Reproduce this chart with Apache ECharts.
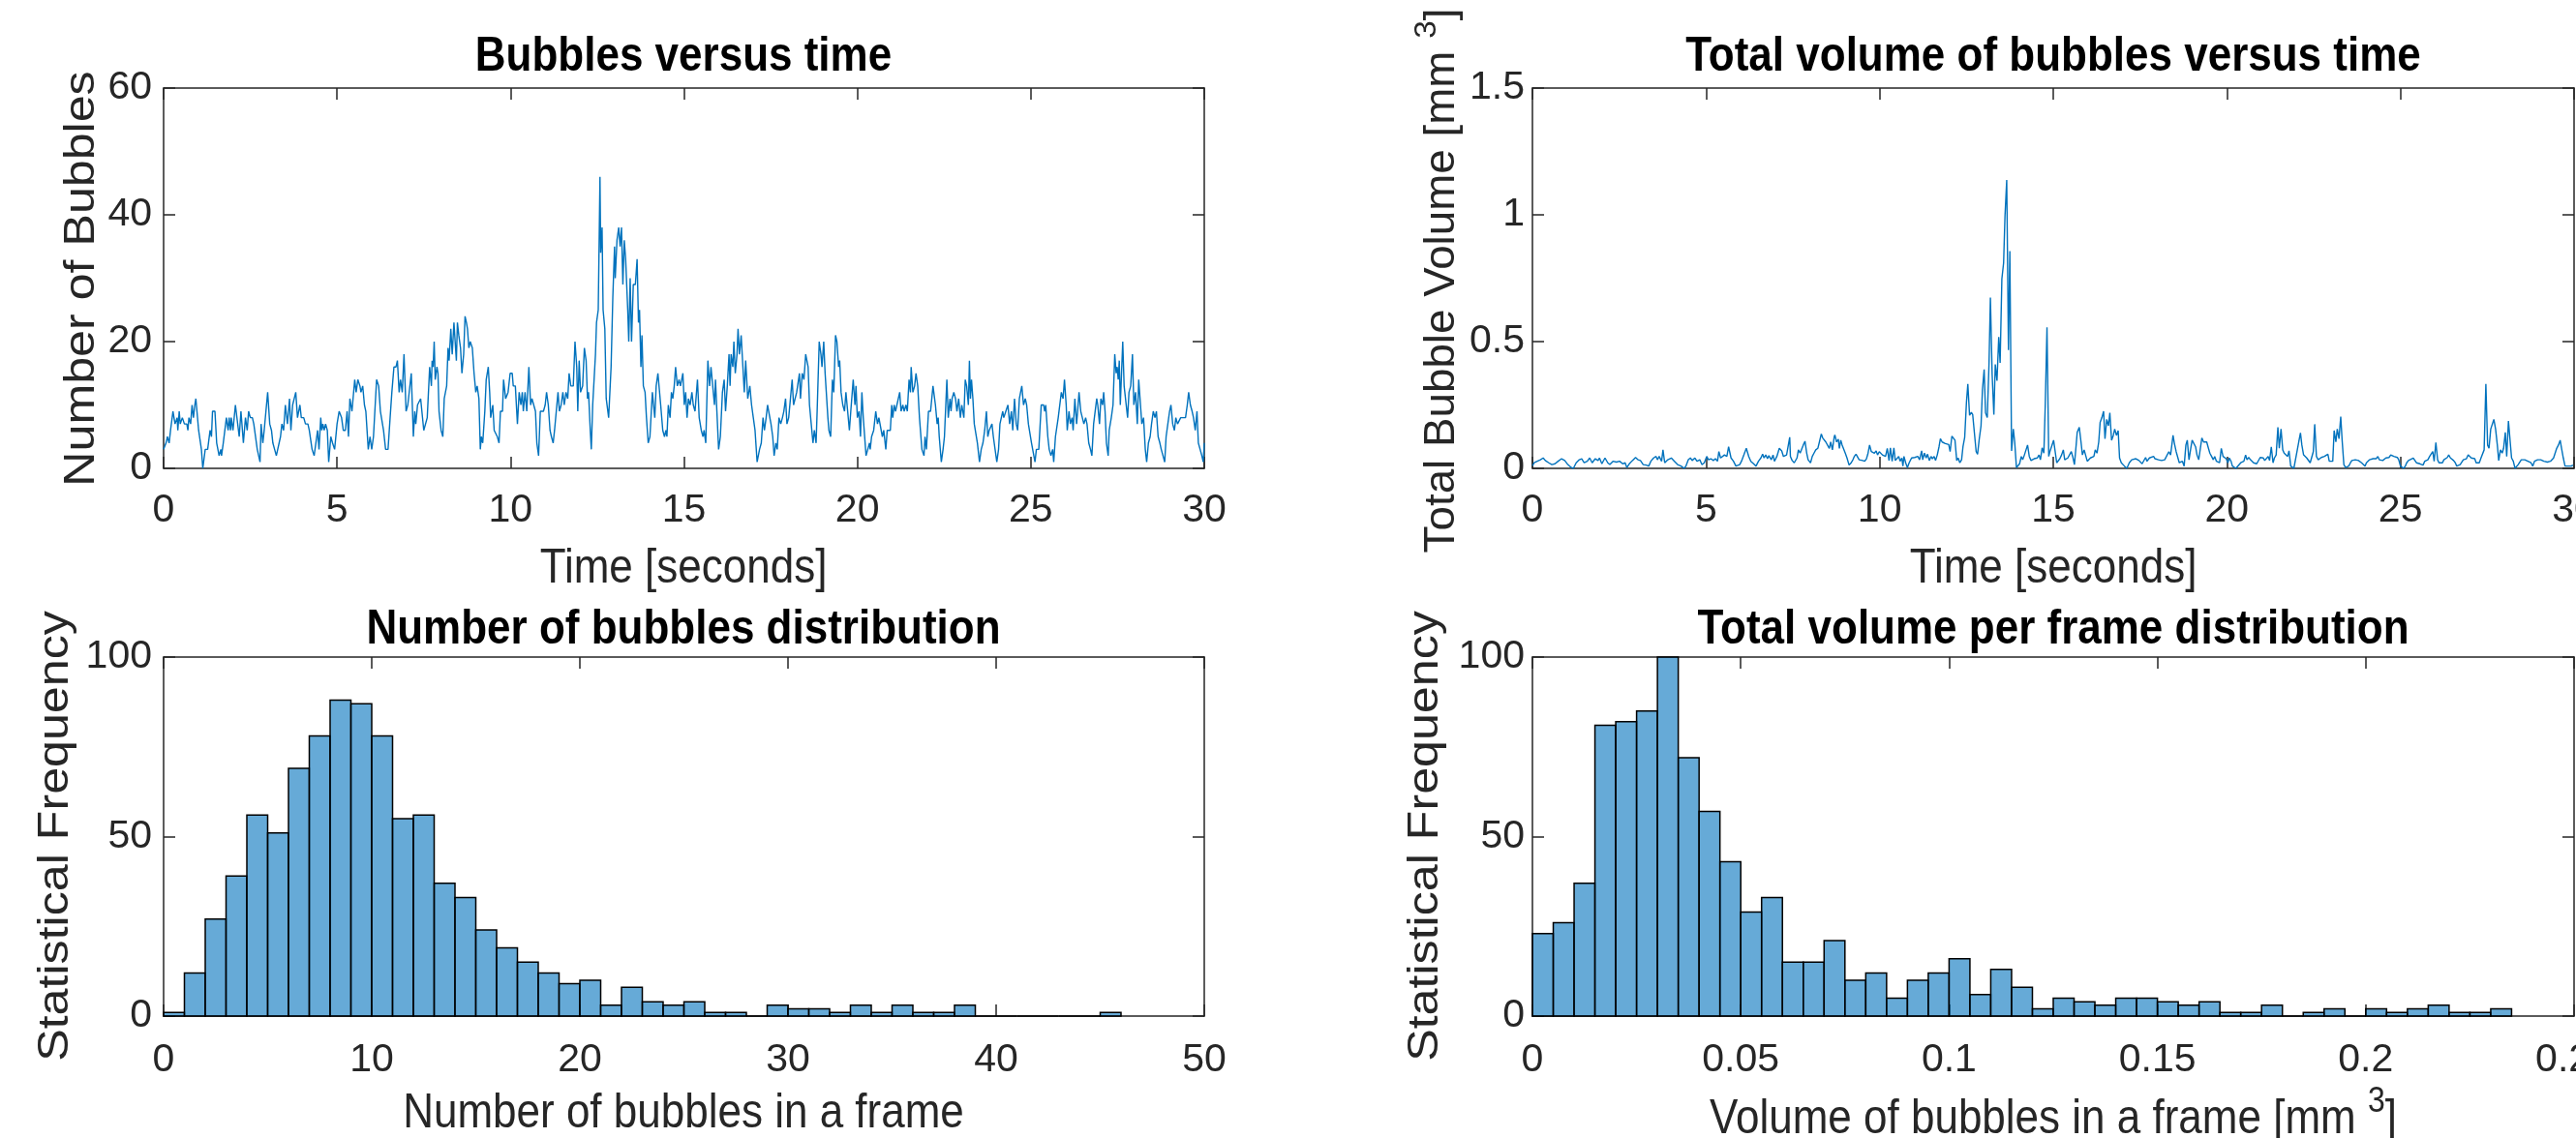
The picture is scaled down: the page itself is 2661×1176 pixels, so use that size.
<!DOCTYPE html>
<html lang="en">
<head>
<meta charset="UTF-8">
<title>Bubbles</title>
<style>
  html, body { margin: 0; padding: 0; background: #fff; overflow: hidden; }
  #main { width: 2661px; height: 1176px; }
</style>
</head>
<body>
<div id="main"></div>
<script src="https://cdn.jsdelivr.net/npm/echarts@6/dist/echarts.min.js"></script>
<script>
// number of bubbles per frame, [time s, count]
var bubblesOverTime = [
[0,3],[0.07,4],[0.11,5],[0.16,4],[0.2,6],[0.27,9],[0.33,7],[0.39,8],[0.41,6],[0.45,9],[0.48,7],[0.54,8],[0.6,7],[0.67,7],[0.7,6],[0.73,8],[0.78,7],[0.82,10],[0.86,8],[0.9,10],[0.93,11],[1.01,6],[1.09,3],[1.13,0],[1.2,3],[1.27,3],[1.34,6],[1.38,5],[1.41,9],[1.48,9],[1.53,4],[1.6,2],[1.65,3],[1.67,2],[1.72,4],[1.77,4],[1.81,8],[1.86,6],[1.89,8],[1.93,6],[1.95,8],[2,6],[2.07,10],[2.11,10],[2.18,5],[2.23,9],[2.3,4],[2.36,8],[2.41,6],[2.45,9],[2.5,8],[2.56,8],[2.6,7],[2.7,3],[2.78,1],[2.81,7],[2.86,4],[2.9,6],[3,12],[3.06,7],[3.11,6],[3.15,4],[3.2,3],[3.25,2],[3.3,2],[3.37,5],[3.41,7],[3.46,6],[3.51,10],[3.55,10],[3.57,7],[3.63,11],[3.67,6],[3.72,10],[3.77,10],[3.81,12],[3.86,8],[3.93,10],[3.97,8],[4.04,8],[4.09,7],[4.16,7],[4.2,6],[4.28,3],[4.34,2],[4.39,2],[4.44,6],[4.48,3],[4.53,8],[4.56,6],[4.59,7],[4.63,6],[4.67,7],[4.72,6],[4.76,1],[4.82,5],[4.87,4],[4.93,3],
[5,7],[5.06,9],[5.13,8],[5.18,6],[5.24,6],[5.29,9],[5.33,5],[5.37,11],[5.43,9],[5.51,14],[5.55,12],[5.6,14],[5.66,13],[5.69,12],[5.74,13],[5.79,10],[5.83,9],[5.9,3],[5.95,5],[6,3],[6.05,5],[6.09,9],[6.14,14],[6.2,13],[6.25,9],[6.34,6],[6.4,3],[6.47,3],[6.53,8],[6.58,12],[6.64,16],[6.7,16],[6.74,17],[6.79,12],[6.83,14],[6.88,12],[6.93,18],[6.99,9],[7.04,10],[7.09,10],[7.14,15],[7.2,5],[7.24,9],[7.27,7],[7.32,10],[7.37,10],[7.41,11],[7.5,6],[7.55,6],[7.6,8],[7.67,16],[7.72,13],[7.74,17],[7.77,16],[7.8,20],[7.83,14],[7.88,16],[7.91,15],[7.94,9],[8,6],[8.05,5],[8.09,11],[8.16,13],[8.2,19],[8.23,17],[8.28,22],[8.32,18],[8.37,23],[8.44,17],[8.47,23],[8.51,21],[8.56,19],[8.6,15],[8.65,18],[8.69,24],[8.73,23],[8.76,22],[8.8,19],[8.84,20],[8.9,19],[8.95,15],[9,12],[9.04,13],[9.09,11],[9.13,3],[9.16,5],[9.2,4],[9.26,9],[9.3,14],[9.36,16],[9.4,12],[9.43,8],[9.49,10],[9.53,6],[9.58,6],[9.62,5],[9.67,4],[9.71,9],[9.77,9],[9.8,14],[9.86,11],[9.93,12],[9.99,15],
[10.05,15],[10.08,13],[10.14,13],[10.2,7],[10.25,12],[10.3,10],[10.34,12],[10.37,9],[10.42,12],[10.47,9],[10.53,16],[10.58,10],[10.62,11],[10.72,9],[10.76,4],[10.81,2],[10.86,9],[10.95,9],[11,10],[11.04,12],[11.09,10],[11.14,6],[11.18,5],[11.23,4],[11.27,6],[11.32,6],[11.37,12],[11.41,9],[11.46,10],[11.51,12],[11.55,10],[11.6,12],[11.65,11],[11.69,15],[11.74,13],[11.81,13],[11.86,20],[11.91,16],[11.94,9],[11.98,17],[12.02,12],[12.08,13],[12.13,19],[12.18,17],[12.22,11],[12.25,12],[12.3,6],[12.33,3],[12.37,10],[12.41,10],[12.45,18],[12.48,23],[12.53,25],[12.58,46],[12.6,34],[12.64,38],[12.67,25],[12.72,22],[12.76,11],[12.83,8],[12.9,16],[12.95,27],[13,35],[13.02,30],[13.07,36],[13.12,38],[13.16,35],[13.2,38],[13.24,29],[13.28,36],[13.32,33],[13.38,25],[13.41,20],[13.45,30],[13.49,20],[13.54,29],[13.6,29],[13.65,33],[13.69,23],[13.72,25],[13.76,16],[13.79,21],[13.83,13],[13.88,12],[13.92,8],[13.97,4],[14.02,5],[14.06,9],[14.09,12],[14.16,8],[14.2,13],[14.25,15],[14.33,10],[14.39,6],[14.44,5],[14.48,6],[14.51,5],[14.55,10],[14.6,8],[14.64,12],[14.68,11],[14.72,13],[14.76,16],[14.81,13],[14.86,14],[14.9,13],[14.97,15],
[15.01,10],[15.05,12],[15.09,8],[15.13,11],[15.18,10],[15.23,12],[15.27,10],[15.32,9],[15.39,14],[15.44,8],[15.5,6],[15.55,5],[15.58,6],[15.63,4],[15.69,17],[15.74,13],[15.78,16],[15.83,16],[15.88,10],[15.91,14],[15.95,9],[16,3],[16.05,5],[16.11,12],[16.16,14],[16.2,9],[16.25,13],[16.3,18],[16.33,13],[16.36,18],[16.41,16],[16.44,20],[16.48,15],[16.53,18],[16.56,22],[16.6,18],[16.65,21],[16.7,16],[16.74,12],[16.78,17],[16.84,11],[16.9,13],[16.95,10],[17,8],[17.05,6],[17.11,1],[17.18,3],[17.23,4],[17.28,8],[17.32,6],[17.37,8],[17.41,10],[17.46,10],[17.51,7],[17.56,5],[17.6,2],[17.65,4],[17.69,3],[17.74,8],[17.79,7],[17.84,8],[17.88,9],[17.93,11],[17.97,7],[18.02,8],[18.07,11],[18.12,14],[18.16,10],[18.2,10],[18.25,12],[18.3,12],[18.33,15],[18.36,11],[18.41,15],[18.46,14],[18.51,18],[18.58,16],[18.62,10],[18.67,7],[18.72,4],[18.76,6],[18.81,4],[18.84,9],[18.9,20],[18.95,18],[18.98,16],[19.03,20],[19.07,15],[19.11,15],[19.15,8],[19.18,6],[19.23,5],[19.28,14],[19.32,12],[19.37,21],[19.41,20],[19.46,16],[19.49,17],[19.53,12],[19.58,10],[19.63,9],[19.67,12],[19.72,9],[19.77,6],[19.81,9],[19.88,14],[19.93,10],[19.96,13],
[20,8],[20.05,9],[20.09,5],[20.13,12],[20.17,8],[20.2,8],[20.25,2],[20.3,3],[20.35,4],[20.37,3],[20.41,5],[20.47,6],[20.53,9],[20.58,7],[20.62,8],[20.67,8],[20.72,5],[20.76,6],[20.82,3],[20.86,6],[20.95,6],[20.99,10],[21.02,8],[21.06,10],[21.1,9],[21.14,10],[21.18,10],[21.22,12],[21.26,9],[21.31,10],[21.35,9],[21.4,10],[21.44,9],[21.49,14],[21.53,12],[21.55,16],[21.6,12],[21.65,13],[21.69,15],[21.74,13],[21.79,8],[21.86,3],[21.92,2],[21.95,5],[21.99,3],[22.05,9],[22.11,9],[22.18,13],[22.25,10],[22.3,7],[22.33,8],[22.36,5],[22.42,1],[22.47,3],[22.51,5],[22.58,14],[22.62,8],[22.67,11],[22.7,9],[22.73,11],[22.78,12],[22.83,11],[22.87,9],[22.92,11],[22.97,8],[23.01,10],[23.07,8],[23.11,14],[23.15,13],[23.2,10],[23.23,17],[23.26,11],[23.29,14],[23.33,11],[23.37,7],[23.42,7],[23.46,4],[23.52,1],[23.57,3],[23.62,4],[23.67,6],[23.72,9],[23.76,5],[23.8,6],[23.88,7],[23.92,5],[23.97,3],[24.02,1],[24.07,3],[24.11,7],[24.19,9],[24.22,8],[24.28,9],[24.34,10],[24.39,7],[24.44,9],[24.48,6],[24.53,11],[24.58,7],[24.62,6],[24.67,11],[24.74,13],[24.79,10],[24.84,11],[24.88,10],[24.93,7],[24.98,7],
[25.02,4],[25.07,4],[25.12,1],[25.16,3],[25.23,3],[25.3,10],[25.37,10],[25.4,9],[25.43,10],[25.49,5],[25.53,3],[25.58,2],[25.63,3],[25.66,1],[25.71,5],[25.79,8],[25.83,8],[25.88,12],[25.93,11],[25.97,14],[26.02,10],[26.05,6],[26.1,9],[26.14,7],[26.19,8],[26.22,6],[26.27,11],[26.32,7],[26.35,9],[26.39,12],[26.44,9],[26.49,9],[26.53,7],[26.58,8],[26.62,7],[26.67,4],[26.72,3],[26.76,2],[26.81,7],[26.86,7],[26.9,11],[26.93,10],[26.98,7],[27.02,11],[27.07,10],[27.1,12],[27.14,9],[27.18,4],[27.23,2],[27.26,6],[27.32,8],[27.37,10],[27.42,18],[27.46,15],[27.49,16],[27.52,14],[27.55,17],[27.58,10],[27.65,20],[27.69,13],[27.74,13],[27.79,8],[27.83,12],[27.88,13],[27.93,18],[27.97,10],[28.02,12],[28.07,7],[28.11,14],[28.16,14],[28.2,7],[28.25,8],[28.3,3],[28.34,1],[28.39,4],[28.44,5],[28.48,7],[28.53,9],[28.58,8],[28.62,9],[28.67,5],[28.72,4],[28.76,3],[28.81,2],[28.86,1],[28.9,5],[28.95,7],[29,9],[29.04,10],[29.09,7],[29.14,6],[29.18,8],[29.23,7],[29.32,8],[29.46,8],[29.51,10],[29.55,12],[29.6,10],[29.65,9],[29.69,8],[29.74,6],[29.79,9],[29.83,4],[29.88,4],[29.93,2],[29.97,1],[30,4]
];

// total bubble volume per frame, [time s, mm^3]
var volumeOverTime = [
[0,0.01],[0.05,0.022],[0.14,0.028],[0.23,0.034],[0.31,0.041],[0.37,0.031],[0.47,0.022],[0.56,0.015],[0.65,0.018],[0.74,0.028],[0.84,0.038],[0.93,0.031],[1.02,0.015],[1.12,0.003],[1.18,0],[1.26,0.022],[1.35,0.034],[1.42,0.038],[1.49,0.022],[1.58,0.028],[1.65,0.041],[1.72,0.022],[1.81,0.038],[1.89,0.031],[1.93,0.041],[2,0.018],[2.09,0.041],[2.17,0.022],[2.23,0.015],[2.32,0.028],[2.42,0.025],[2.51,0.028],[2.6,0.018],[2.67,0.022],[2.72,0.003],[2.79,0.018],[2.88,0.031],[2.97,0.043],[3.04,0.034],[3.11,0.031],[3.19,0.015],[3.28,0.013],[3.35,0.009],[3.41,0.028],[3.49,0.041],[3.56,0.047],[3.6,0.034],[3.65,0.047],[3.72,0.028],[3.76,0.073],[3.81,0.022],[3.9,0.034],[4,0.041],[4.09,0.028],[4.18,0.015],[4.28,0.009],[4.37,0],[4.42,0.009],[4.49,0.034],[4.55,0.041],[4.6,0.031],[4.68,0.041],[4.74,0.028],[4.82,0.034],[4.88,0.015],[4.95,0.022],
[5.02,0.047],[5.07,0.034],[5.14,0.038],[5.21,0.031],[5.27,0.038],[5.33,0.028],[5.37,0.066],[5.42,0.041],[5.47,0.034],[5.53,0.053],[5.6,0.047],[5.65,0.085],[5.72,0.041],[5.79,0.028],[5.86,0.009],[5.9,0.003],[5.97,0.015],[6.02,0.028],[6.09,0.053],[6.16,0.079],[6.23,0.047],[6.29,0.028],[6.37,0.018],[6.44,0.009],[6.51,0.028],[6.58,0.041],[6.63,0.056],[6.67,0.041],[6.72,0.053],[6.77,0.038],[6.81,0.05],[6.88,0.034],[6.93,0.053],[6.97,0.028],[7.04,0.047],[7.11,0.079],[7.18,0.069],[7.23,0.047],[7.28,0.041],[7.32,0.053],[7.37,0.06],[7.41,0.123],[7.43,0.047],[7.48,0.031],[7.54,0.022],[7.62,0.041],[7.66,0.073],[7.71,0.06],[7.76,0.066],[7.8,0.092],[7.85,0.107],[7.9,0.06],[7.94,0.034],[8.01,0.022],[8.06,0.047],[8.11,0.06],[8.16,0.073],[8.22,0.079],[8.27,0.107],[8.32,0.136],[8.36,0.12],[8.41,0.123],[8.45,0.104],[8.5,0.102],[8.55,0.079],[8.59,0.104],[8.64,0.073],[8.69,0.123],[8.71,0.132],[8.76,0.104],[8.81,0.115],[8.84,0.079],[8.88,0.111],[8.92,0.092],[8.97,0.085],[9.01,0.06],[9.06,0.041],[9.12,0.013],[9.18,0.022],[9.23,0.034],[9.27,0.047],[9.32,0.056],[9.37,0.06],[9.41,0.034],[9.46,0.038],[9.51,0.031],[9.57,0.028],[9.62,0.038],[9.66,0.056],[9.71,0.092],[9.76,0.066],[9.8,0.069],[9.85,0.06],[9.9,0.069],[9.94,0.053],[9.99,0.066],
[10.04,0.073],[10.08,0.053],[10.13,0.056],[10.17,0.047],[10.22,0.079],[10.27,0.031],[10.31,0.081],[10.36,0.028],[10.41,0.081],[10.45,0.031],[10.5,0.025],[10.55,0.047],[10.59,0.028],[10.64,0.041],[10.67,0.009],[10.7,0.047],[10.75,0.022],[10.8,0.003],[10.85,0.022],[10.92,0.041],[10.96,0.038],[11.01,0.043],[11.06,0.038],[11.1,0.047],[11.15,0.034],[11.21,0.069],[11.24,0.034],[11.29,0.06],[11.34,0.041],[11.38,0.056],[11.43,0.031],[11.48,0.047],[11.52,0.038],[11.57,0.047],[11.61,0.031],[11.66,0.053],[11.71,0.085],[11.75,0.117],[11.8,0.104],[11.85,0.111],[11.89,0.098],[11.94,0.104],[11.99,0.094],[12.03,0.066],[12.08,0.127],[12.13,0.12],[12.17,0.111],[12.22,0.031],[12.26,0.041],[12.31,0.022],[12.36,0.034],[12.4,0.085],[12.45,0.123],[12.5,0.26],[12.54,0.333],[12.59,0.209],[12.64,0.221],[12.68,0.212],[12.73,0.219],[12.78,0.066],[12.82,0.056],[12.87,0.117],[12.92,0.168],[12.96,0.308],[13.01,0.39],[13.05,0.219],[13.1,0.2],[13.15,0.412],[13.19,0.674],[13.24,0.371],[13.29,0.212],[13.33,0.41],[13.38,0.346],[13.43,0.518],[13.47,0.416],[13.52,0.747],[13.57,0.81],[13.61,0.995],[13.66,1.137],[13.71,0.467],[13.75,0.857],[13.8,0.069],[13.85,0.155],[13.89,0.104],[13.94,0.003],[13.98,0.009],[14.03,0.018],[14.08,0.047],[14.12,0.034],[14.17,0.053],[14.22,0.047],[14.26,0.092],[14.31,0.047],[14.36,0.031],[14.4,0.034],[14.45,0.038],[14.5,0.031],[14.54,0.041],[14.59,0.053],[14.63,0.034],[14.68,0.081],[14.73,0.06],[14.77,0.251],[14.82,0.556],[14.87,0.047],[14.91,0.069],
[14.96,0.073],[15.01,0.111],[15.05,0.111],[15.1,0.022],[15.15,0.028],[15.19,0.038],[15.24,0.053],[15.29,0.073],[15.33,0.034],[15.38,0.038],[15.42,0.041],[15.47,0.047],[15.52,0.066],[15.56,0.047],[15.61,0.015],[15.66,0.092],[15.69,0.142],[15.75,0.162],[15.8,0.104],[15.84,0.053],[15.89,0.073],[15.94,0.073],[15.98,0.028],[16.03,0.028],[16.07,0.041],[16.12,0.047],[16.17,0.047],[16.21,0.073],[16.26,0.06],[16.31,0.104],[16.35,0.181],[16.4,0.2],[16.45,0.225],[16.49,0.117],[16.54,0.193],[16.59,0.168],[16.63,0.219],[16.68,0.111],[16.73,0.13],[16.77,0.155],[16.82,0.13],[16.87,0.149],[16.91,0.041],[16.96,0.022],[17.05,0.009],[17.12,0],[17.19,0.022],[17.26,0.034],[17.38,0.038],[17.47,0.031],[17.56,0.018],[17.61,0.013],[17.66,0.043],[17.7,0.028],[17.77,0.041],[17.82,0.038],[17.89,0.047],[17.93,0.038],[17.98,0.041],[18.03,0.034],[18.07,0.041],[18.12,0.031],[18.17,0.038],[18.21,0.034],[18.26,0.047],[18.31,0.053],[18.33,0.066],[18.38,0.053],[18.45,0.13],[18.49,0.098],[18.54,0.066],[18.58,0.06],[18.63,0.022],[18.68,0.015],[18.72,0.028],[18.77,0.009],[18.82,0.092],[18.86,0.111],[18.91,0.034],[18.96,0.079],[19,0.111],[19.05,0.115],[19.1,0.085],[19.14,0.053],[19.19,0.034],[19.24,0.034],[19.28,0.12],[19.33,0.104],[19.37,0.102],[19.42,0.104],[19.47,0.079],[19.51,0.06],[19.56,0.047],[19.61,0.034],[19.65,0.047],[19.7,0.028],[19.75,0.034],[19.79,0.022],[19.84,0.079],[19.89,0.047],[19.93,0.053],[19.98,0.038],
[20.03,0.022],[20.07,0.041],[20.12,0.028],[20.16,0.009],[20.26,0],[20.3,0.003],[20.4,0.022],[20.44,0.028],[20.49,0.028],[20.54,0.053],[20.58,0.034],[20.63,0.043],[20.68,0.034],[20.72,0.031],[20.77,0.022],[20.82,0.028],[20.86,0.018],[20.91,0.022],[20.96,0.043],[21,0.038],[21.05,0.041],[21.09,0.031],[21.14,0.038],[21.19,0.047],[21.23,0.031],[21.28,0.085],[21.33,0.022],[21.37,0.041],[21.42,0.053],[21.47,0.162],[21.51,0.079],[21.56,0.155],[21.61,0.073],[21.65,0.06],[21.7,0.066],[21.75,0.047],[21.79,0.069],[21.84,0.009],[21.88,0.003],[21.93,0],[21.98,0.005],[22.02,0.066],[22.07,0.104],[22.12,0.14],[22.16,0.092],[22.21,0.053],[22.26,0.06],[22.3,0.041],[22.35,0.047],[22.4,0.022],[22.44,0.015],[22.49,0.066],[22.53,0.174],[22.58,0.047],[22.63,0.034],[22.67,0.038],[22.72,0.043],[22.77,0.041],[22.81,0.047],[22.86,0.043],[22.91,0.056],[22.95,0.028],[23,0.034],[23.05,0.028],[23.09,0.149],[23.14,0.104],[23.18,0.155],[23.23,0.117],[23.28,0.204],[23.32,0.111],[23.37,0.015],[23.42,0.003],[23.46,0],[23.51,0.009],[23.56,0.022],[23.6,0.031],[23.65,0.038],[23.7,0.034],[23.74,0.038],[23.79,0.031],[23.84,0.028],[23.88,0.022],[23.93,0.015],[23.98,0.009],[24.02,0.022],[24.07,0.028],[24.11,0.034],[24.16,0.031],[24.21,0.038],[24.25,0.034],[24.3,0.038],[24.35,0.047],[24.39,0.034],[24.44,0.038],[24.49,0.031],[24.53,0.028],[24.58,0.041],[24.63,0.047],[24.67,0.043],[24.72,0.053],[24.77,0.06],[24.81,0.047],[24.86,0.041],[24.91,0.043],[24.95,0.034],
[25,0.009],[25.04,0.003],[25.09,0],[25.14,0.009],[25.18,0.022],[25.23,0.031],[25.28,0.038],[25.37,0.041],[25.42,0.034],[25.46,0.022],[25.51,0.015],[25.56,0.018],[25.6,0.022],[25.65,0.013],[25.7,0.028],[25.74,0.031],[25.79,0.034],[25.84,0.047],[25.88,0.053],[25.93,0.066],[25.97,0.028],[26.02,0.102],[26.07,0.034],[26.11,0.022],[26.16,0.028],[26.21,0.022],[26.25,0.034],[26.3,0.038],[26.35,0.043],[26.39,0.053],[26.44,0.041],[26.48,0.038],[26.53,0.031],[26.58,0.022],[26.62,0.009],[26.67,0.003],[26.72,0.015],[26.76,0.009],[26.81,0.034],[26.86,0.028],[26.9,0.038],[26.95,0.053],[27,0.06],[27.04,0.041],[27.09,0.047],[27.14,0.038],[27.18,0.022],[27.23,0.015],[27.27,0.022],[27.32,0.041],[27.37,0.047],[27.41,0.073],[27.46,0.333],[27.51,0.092],[27.55,0.079],[27.6,0.155],[27.65,0.162],[27.69,0.193],[27.74,0.155],[27.79,0.092],[27.83,0.031],[27.88,0.073],[27.93,0.06],[27.97,0.079],[28.02,0.142],[28.06,0.047],[28.11,0.187],[28.16,0.181],[28.2,0.041],[28.25,0.028],[28.3,0],[28.34,0.003],[28.39,0.015],[28.44,0.022],[28.48,0.034],[28.53,0.038],[28.58,0.034],[28.62,0.038],[28.67,0.028],[28.72,0.034],[28.76,0.022],[28.81,0.009],[28.86,0.028],[28.9,0.028],[28.95,0.034],[28.99,0.041],[29.04,0.034],[29.09,0.038],[29.13,0.028],[29.18,0.031],[29.23,0.025],[29.27,0.028],[29.32,0.028],[29.36,0.034],[29.41,0.041],[29.46,0.047],[29.5,0.079],[29.55,0.092],[29.6,0.111],[29.64,0.079],[29.69,0.041],[29.74,0.009],[29.78,0.003],[29.83,0.009],[29.88,0.005],[29.92,0.009],[29.97,0.013]
];

// histogram of bubble counts, bins of width 1 starting at 0
var countBinWidth = 1;
var countBins = [1,12,27,39,56,51,69,78,88,87,78,55,56,37,33,24,19,15,12,9,10,3,8,4,3,4,1,1,0,3,2,2,1,3,1,3,1,1,3,0,0,0,0,0,0,1];

// histogram of total volume, bins of width 0.005 starting at 0
var volumeBinWidth = 0.005;
var volumeBins = [23,26,37,81,82,85,100,72,57,43,29,33,15,15,21,10,12,5,10,12,16,6,13,8,2,5,4,3,5,5,4,3,4,1,1,3,0,1,2,0,2,1,2,3,1,1,2];

var FONT = 'Liberation Sans, Arial, Helvetica, sans-serif';
var INK = '#262626';
var LINE = '#0072BD';
var BAR = 'rgba(0,114,189,0.6)';
var STRETCH = 1.14;   // the figure is taller than it is wide, text too

var grids = [
    {left: 169, top: 91, width: 1075, height: 393, outerBoundsMode: 'none'},
    {left: 1583, top: 91, width: 1076, height: 393, outerBoundsMode: 'none'},
    {left: 169, top: 679, width: 1075, height: 371, outerBoundsMode: 'none'},
    {left: 1583, top: 679, width: 1076, height: 371, outerBoundsMode: 'none'}
];

function boxX(g, max, step, gap) {
    var base = {
        type: 'value', gridIndex: g, min: 0, max: max, interval: step,
        axisLine: {show: true, onZero: false, lineStyle: {color: INK, width: 1.5}},
        axisTick: {show: true, inside: true, length: 12, lineStyle: {color: INK, width: 1.5}},
        splitLine: {show: false}
    };
    return [
        Object.assign({}, base, {position: 'bottom',
            axisLabel: {color: INK, fontFamily: FONT, fontSize: 41, margin: gap}}),
        Object.assign({}, base, {position: 'top', axisLabel: {show: false}})
    ];
}

function boxY(g, max, step, gap) {
    var base = {
        type: 'value', gridIndex: g, min: 0, max: max, interval: step,
        axisLine: {show: true, onZero: false, lineStyle: {color: INK, width: 1.5}},
        axisTick: {show: true, inside: true, length: 12, lineStyle: {color: INK, width: 1.5}},
        splitLine: {show: false}
    };
    return [
        Object.assign({}, base, {position: 'left',
            axisLabel: {color: INK, fontFamily: FONT, fontSize: 41, margin: gap}}),
        Object.assign({}, base, {position: 'right', axisLabel: {show: false}})
    ];
}

function histRect(width) {
    return function (params, api) {
        var x0 = api.value(0);
        var top = api.coord([x0, api.value(1)]);
        var bottom = api.coord([x0 + width, 0]);
        return {
            type: 'rect',
            shape: {x: top[0], y: top[1], width: bottom[0] - top[0], height: bottom[1] - top[1]},
            style: {fill: BAR, stroke: '#000', lineWidth: 1.5}
        };
    };
}

function text(x, y, str, size, bold, rotate, stretch) {
    var k = stretch || STRETCH;
    return {
        type: 'text', x: x, y: y, rotation: rotate ? Math.PI / 2 : 0, z: 10,
        scaleX: rotate ? k : 1, scaleY: rotate ? 1 : k,
        style: {
            text: str, fill: bold ? '#000' : INK, fontFamily: FONT, fontSize: size,
            fontWeight: bold ? 'bold' : 'normal', lineHeight: 64,
            align: 'center', verticalAlign: 'middle', textAlign: 'center', textVerticalAlign: 'middle',
            rich: {s: {fontFamily: FONT, fontSize: 32, lineHeight: 32, verticalAlign: 'top', fill: INK}}
        }
    };
}

var chart = echarts.init(document.getElementById('main'));
chart.setOption({
    animation: false,
    backgroundColor: '#fff',
    grid: grids,
    xAxis: [].concat(boxX(0, 30, 5, 23), boxX(1, 30, 5, 23), boxX(2, 50, 10, 25), boxX(3, 0.25, 0.05, 25)),
    yAxis: [].concat(boxY(0, 60, 20, 12), boxY(1, 1.5, 0.5, 8), boxY(2, 100, 50, 12), boxY(3, 100, 50, 8)),
    series: [
        {type: 'line', xAxisIndex: 0, yAxisIndex: 0, data: bubblesOverTime, showSymbol: false,
            lineStyle: {color: LINE, width: 1.4}, itemStyle: {color: LINE}},
        {type: 'line', xAxisIndex: 2, yAxisIndex: 2, data: volumeOverTime, showSymbol: false,
            lineStyle: {color: LINE, width: 1.4}, itemStyle: {color: LINE}},
        {type: 'custom', xAxisIndex: 4, yAxisIndex: 4, renderItem: histRect(countBinWidth),
            data: countBins.map(function (n, i) { return [i * countBinWidth, n]; }), encode: {x: 0, y: 1}},
        {type: 'custom', xAxisIndex: 6, yAxisIndex: 6, renderItem: histRect(volumeBinWidth),
            data: volumeBins.map(function (n, i) { return [i * volumeBinWidth, n]; }), encode: {x: 0, y: 1}}
    ],
    graphic: [
        text(706, 59, 'Bubbles versus time', 44, true),
        text(2121, 59, 'Total volume of bubbles versus time', 44, true),
        text(706, 651, 'Number of bubbles distribution', 44, true),
        text(2121, 651, 'Total volume per frame distribution', 44, true),
        text(706, 588, 'Time [seconds]', 44),
        text(2121, 588, 'Time [seconds]', 44),
        text(706, 1151, 'Number of bubbles in a frame', 44),
        text(2121, 1157, 'Volume of bubbles in a frame [mm {s|3}]', 44),
        text(85, 288, 'Number of Bubbles', 44, false, true),
        text(1490, 290, 'Total Bubble Volume [mm {s|3}]', 44, false, true, 1.04),
        text(58, 864, 'Statistical Frequency', 44, false, true),
        text(1473, 864, 'Statistical Frequency', 44, false, true)
    ]
});
</script>
</body>
</html>
